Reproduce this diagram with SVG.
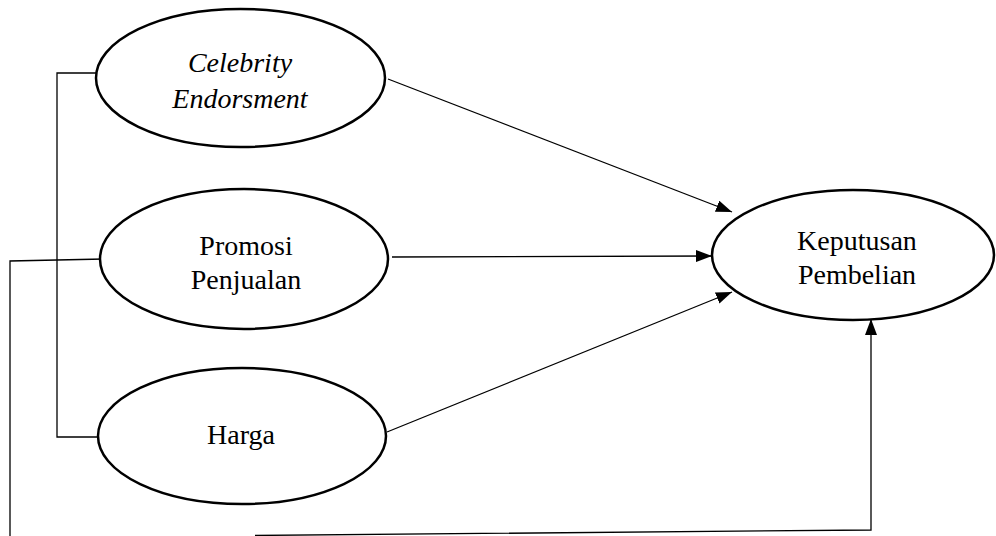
<svg xmlns="http://www.w3.org/2000/svg" width="996" height="536" viewBox="0 0 996 536">
<style>
.node ellipse{fill:#fff;stroke:#000;stroke-width:2.5}
text{font-family:"Liberation Serif","Times New Roman",serif;font-size:28px;fill:#000;text-anchor:middle}
.conn line,.conn polyline{stroke:#000;stroke-width:1.3;fill:none}
</style>
<defs>
<marker id="arr" viewBox="0 0 16 12" refX="16" refY="6" markerWidth="16" markerHeight="12" markerUnits="userSpaceOnUse" orient="auto">
<path d="M0,0 L16,6 L0,12 Z" fill="#000"/>
</marker>
</defs>
<rect width="996" height="536" fill="#fff"/>
<g class="conn" id="connectors">
<polyline points="96,73 57,73 57,437 98,437"/>
<polyline points="104,259 10,261 10,536"/>
<polyline points="255,535.5 871,530 871,319" marker-end="url(#arr)"/>
<line x1="388" y1="79" x2="732" y2="212" marker-end="url(#arr)"/>
<line x1="392" y1="257" x2="712" y2="256" marker-end="url(#arr)"/>
<line x1="387" y1="432" x2="732" y2="292" marker-end="url(#arr)"/>
</g>
<g class="node" id="celebrity">
<ellipse cx="240.5" cy="78" rx="144.5" ry="69"/>
<text x="240" y="72" font-style="italic">Celebrity</text>
<text x="240" y="108" font-style="italic">Endorsment</text>
</g>
<g class="node" id="promosi">
<ellipse cx="244" cy="259" rx="144" ry="70"/>
<text x="246" y="255">Promosi</text>
<text x="246" y="289">Penjualan</text>
</g>
<g class="node" id="harga">
<ellipse cx="242" cy="436" rx="144" ry="68"/>
<text x="241" y="444">Harga</text>
</g>
<g class="node" id="keputusan">
<ellipse cx="853" cy="255" rx="141" ry="65"/>
<text x="857" y="250">Keputusan</text>
<text x="857" y="284">Pembelian</text>
</g>
</svg>
